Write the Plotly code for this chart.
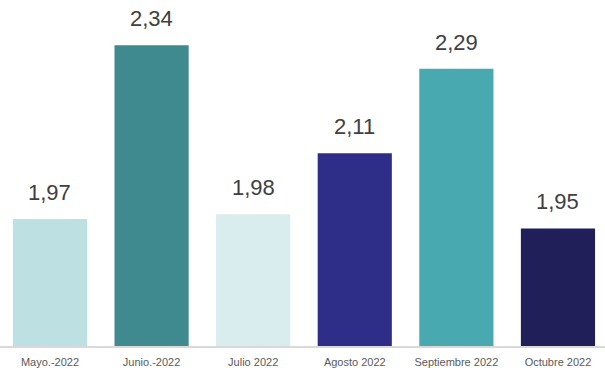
import plotly.graph_objects as go

categories = ["Mayo.-2022", "Junio.-2022", "Julio 2022", "Agosto 2022", "Septiembre 2022", "Octubre 2022"]
values = [1.97, 2.34, 1.98, 2.11, 2.29, 1.95]
labels = ["1,97", "2,34", "1,98", "2,11", "2,29", "1,95"]
colors = ["#BDE0E3", "#3E8A8F", "#D9ECEE", "#2E2D88", "#48A9B0", "#201F5A"]

fig = go.Figure()
fig.add_trace(go.Bar(
    x=categories, y=values, marker=dict(color=colors, line=dict(width=0)),
    hoverinfo="skip",
))
for c, v, t in zip(categories, values, labels):
    fig.add_annotation(x=c, y=v, text=t, showarrow=False, yanchor="bottom",
                       yshift=12, font=dict(size=22, color="#404040",
                                            family="Liberation Sans, Arial, sans-serif"))

fig.update_layout(
    width=605, height=368,
    margin=dict(l=0, r=0, t=0, b=22),
    paper_bgcolor="white", plot_bgcolor="white",
    bargap=0.27, showlegend=False,
    font=dict(family="Liberation Sans, Arial, sans-serif"),
)
fig.update_xaxes(range=[-0.492, 5.463], showline=True, linecolor="#D9D9D9", linewidth=1.5,
                 ticks="", ticklabelstandoff=5,
                 tickfont=dict(size=11, color="#595959"), showgrid=False)
fig.update_yaxes(range=[1.7, 2.436], visible=False, showgrid=False)
fig.write_html("out.html", config={"displayModeBar": False},
               post_script="document.body.style.margin='0';document.body.style.overflow='hidden';")
